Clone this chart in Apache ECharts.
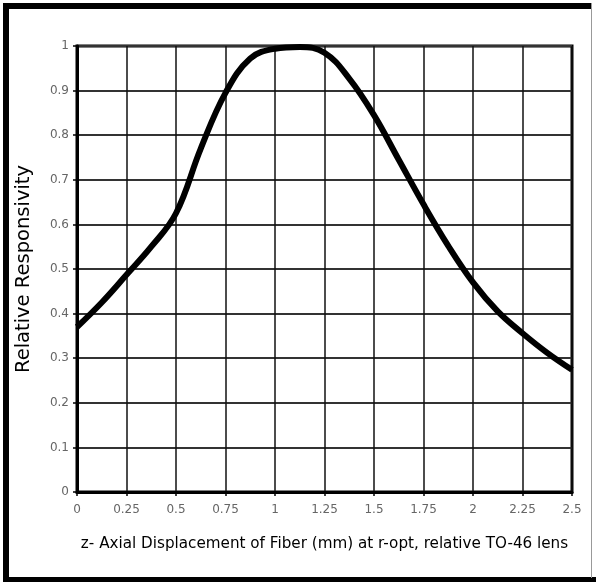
<!DOCTYPE html>
<html>
<head>
<meta charset="utf-8">
<script src="https://cdn.jsdelivr.net/npm/echarts@6/dist/echarts.min.js"></script>
<style>
html,body{margin:0;padding:0;background:#fff;}
#chart{width:596px;height:582px;}
</style>
</head>
<body>
<div id="chart"></div>
<script>
// Data
var zDisplacement = [0, 0.125, 0.25, 0.375, 0.5, 0.625, 0.75, 0.875, 1.0, 1.125, 1.25, 1.375, 1.5, 1.625, 1.75, 1.875, 2.0, 2.125, 2.25, 2.375, 2.5];
var responsivity  = [0.37, 0.425, 0.487, 0.55, 0.625, 0.77, 0.895, 0.972, 0.994, 0.998, 0.985, 0.927, 0.845, 0.745, 0.645, 0.552, 0.47, 0.405, 0.356, 0.312, 0.274];
var xTickLabels = ['0', '0.25', '0.5', '0.75', '1', '1.25', '1.5', '1.75', '2', '2.25', '2.5'];
var yTickLabels = ['0', '0.1', '0.2', '0.3', '0.4', '0.5', '0.6', '0.7', '0.8', '0.9', '1'];
var xTitle = 'z- Axial Displacement of Fiber (mm) at r-opt, relative TO-46 lens';
var yTitle = 'Relative Responsivity';

var points = zDisplacement.map(function (x, i) { return [x, responsivity[i]]; });

var chart = echarts.init(document.getElementById('chart'), null, {renderer: 'canvas'});
var font = 'DejaVu Sans';
chart.setOption({
  animation: false,
  backgroundColor: '#fff',
  grid: {left: 77, right: 24, top: 46, bottom: 90, show: true, borderColor: '#000', borderWidth: 3, backgroundColor: 'transparent'},
  xAxis: {
    type: 'value', min: 0, max: 2.5, interval: 0.25,
    name: xTitle, nameLocation: 'middle', nameGap: 45,
    nameTextStyle: {fontFamily: font, fontSize: 15.2, color: '#000'},
    axisLine: {show: true, lineStyle: {color: '#000', width: 3}},
    axisTick: {show: true, length: 4, lineStyle: {color: '#000', width: 1.5}},
    axisLabel: {margin: 12, fontFamily: font, fontSize: 12, color: '#666',
      formatter: function (v) { var i = Math.round(v / 0.25); return xTickLabels[i]; }},
    splitLine: {show: true, lineStyle: {color: '#111', width: 1.5}}
  },
  yAxis: {
    type: 'value', min: 0, max: 1, interval: 0.1,
    name: yTitle, nameLocation: 'middle', nameGap: 43, nameRotate: 90,
    nameTextStyle: {fontFamily: font, fontSize: 19.5, color: '#000'},
    axisLine: {show: true, lineStyle: {color: '#000', width: 3}},
    axisTick: {show: true, length: 4, lineStyle: {color: '#000', width: 1.5}},
    axisLabel: {margin: 8, fontFamily: font, fontSize: 12, color: '#666',
      formatter: function (v) { var i = Math.round(v / 0.1); return yTickLabels[i]; }},
    splitLine: {show: true, lineStyle: {color: '#333', width: 2}}
  },
  series: [{
    type: 'line', data: points, smooth: 0.4, showSymbol: false, symbol: 'none',
    lineStyle: {color: '#000', width: 6}, z: 5
  }],
  graphic: [
    {type: 'rect', shape: {x: 3, y: 3, width: 6, height: 579}, style: {fill: '#000'}, silent: true},
    {type: 'rect', shape: {x: 3, y: 3, width: 589, height: 6}, style: {fill: '#000'}, silent: true},
    {type: 'rect', shape: {x: 3, y: 577, width: 593, height: 5}, style: {fill: '#000'}, silent: true},
    {type: 'rect', shape: {x: 591, y: 3, width: 1, height: 575}, style: {fill: '#999'}, silent: true}
  ]
});
</script>
</body>
</html>
